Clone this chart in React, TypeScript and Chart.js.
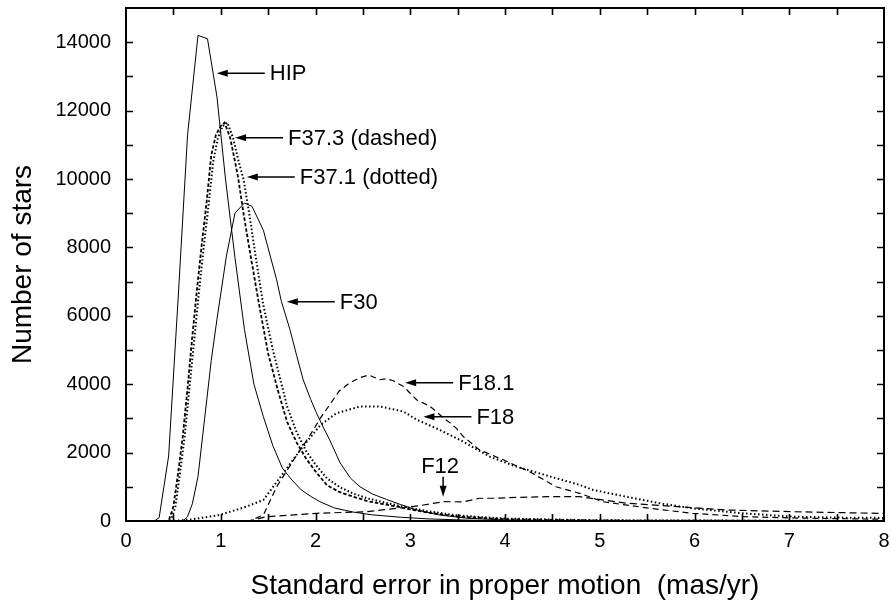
import { useEffect, useRef } from 'react';
import { Chart, registerables } from 'chart.js';

Chart.register(...registerables);

// ---- tick labels ----
const xTickValues = [0, 1, 2, 3, 4, 5, 6, 7, 8];
const yTickValues = [0, 2000, 4000, 6000, 8000, 10000, 12000, 14000];

// ---- series (x = standard error, y = number of stars) ----
const hipX = [0, 0.3, 0.35, 0.45, 0.55, 0.65, 0.76, 0.86, 0.96, 1.05, 1.15, 1.25, 1.35, 1.45, 1.55, 1.65, 1.75, 1.85, 1.95, 2.05, 2.2, 2.4, 2.6, 2.9, 3.2, 3.6, 4.0, 5.0, 8.0];
const hipY = [0, 0, 100, 1900, 6500, 11300, 14200, 14100, 12400, 10000, 7700, 5600, 4000, 3050, 2200, 1550, 1200, 910, 720, 560, 380, 260, 180, 110, 60, 25, 10, 0, 0];

const f373X = [0, 0.45, 0.5, 0.55, 0.6, 0.65, 0.7, 0.75, 0.8, 0.85, 0.9, 0.95, 1.0, 1.04, 1.1, 1.18, 1.24, 1.3, 1.4, 1.5, 1.6, 1.7, 1.8, 1.9, 2.0, 2.12, 2.25, 2.4, 2.55, 2.7, 2.86, 3.0, 3.2, 3.5, 4.0, 5.0, 8.0];
const f373Y = [0, 0, 420, 1400, 2500, 3900, 5400, 6800, 8100, 9300, 10700, 11300, 11550, 11650, 11200, 10100, 9000, 8000, 6400, 4900, 3850, 2900, 2300, 1830, 1450, 1050, 850, 710, 580, 500, 420, 340, 240, 130, 50, 15, 0];

const f371X = [0, 0.47, 0.52, 0.57, 0.62, 0.67, 0.72, 0.77, 0.82, 0.87, 0.92, 0.97, 1.02, 1.07, 1.13, 1.19, 1.24, 1.3, 1.37, 1.45, 1.55, 1.63, 1.7, 1.8, 1.9, 2.0, 2.12, 2.25, 2.4, 2.55, 2.7, 2.86, 3.0, 3.2, 3.5, 4.0, 5.0, 8.0];
const f371Y = [0, 0, 400, 1400, 2500, 3900, 5300, 6700, 8000, 9200, 10500, 11200, 11550, 11650, 11200, 10500, 10000, 9000, 7700, 6300, 5000, 4130, 3350, 2600, 2050, 1650, 1250, 1000, 800, 660, 560, 460, 380, 280, 160, 70, 20, 0];

const f30X = [0, 0.6, 0.65, 0.7, 0.76, 0.83, 0.9, 0.96, 1.06, 1.15, 1.25, 1.33, 1.45, 1.59, 1.64, 1.73, 1.8, 1.87, 1.95, 2.01, 2.08, 2.15, 2.26, 2.37, 2.47, 2.6, 2.75, 2.9, 3.07, 3.3, 3.6, 4.0, 5.0, 8.0];
const f30Y = [0, 0, 130, 500, 1300, 3000, 4700, 5900, 7750, 9000, 9300, 9200, 8500, 7050, 6420, 5600, 4850, 4130, 3550, 3160, 2750, 2370, 1700, 1250, 1000, 790, 630, 480, 320, 180, 80, 30, 5, 0];

const f181X = [0, 1.3, 1.45, 1.59, 1.77, 1.94, 2.05, 2.15, 2.25, 2.36, 2.46, 2.56, 2.68, 2.75, 2.82, 2.93, 3.07, 3.21, 3.35, 3.42, 3.49, 3.56, 3.73, 3.98, 4.26, 4.54, 4.8, 5.03, 5.53, 5.98, 6.5, 7.0, 7.5, 8.0];
const f181Y = [0, 0, 175, 1000, 1790, 2500, 3000, 3400, 3800, 4040, 4180, 4270, 4130, 4160, 4100, 3930, 3540, 3350, 3015, 2870, 2700, 2470, 2080, 1790, 1440, 1000, 800, 565, 370, 225, 130, 90, 70, 50];

const f18X = [0, 0.5, 0.7, 0.99, 1.27, 1.45, 1.66, 1.84, 2.05, 2.22, 2.47, 2.68, 2.93, 3.07, 3.31, 3.56, 3.84, 4.12, 4.54, 4.79, 4.93, 5.28, 5.63, 5.98, 6.51, 7.04, 7.5, 8.0];
const f18Y = [0, 0, 50, 175, 420, 615, 1400, 2080, 2800, 3150, 3350, 3350, 3200, 2960, 2665, 2320, 1880, 1590, 1250, 1054, 908, 710, 520, 370, 225, 126, 100, 90];

const f12X = [0, 1.3, 1.48, 2.01, 2.54, 2.86, 3.1, 3.35, 3.56, 3.73, 3.9, 4.12, 4.44, 4.79, 5.28, 5.81, 6.34, 7.04, 7.92, 8.0];
const f12Y = [0, 0, 126, 225, 272, 370, 450, 565, 560, 665, 665, 690, 710, 710, 520, 420, 322, 272, 225, 220];

// ---- annotations (arrow tip in data coordinates) ----
const annLabels = ['HIP', 'F37.3 (dashed)', 'F37.1 (dotted)', 'F30', 'F18.1', 'F18', 'F12'];
const annTipX = [0.958, 1.151, 1.275, 1.697, 2.946, 3.139, 3.347];
const annTipY = [13090, 11208, 10059, 6412, 4044, 3050, 711];
const annDir = ['left', 'left', 'left', 'left', 'left', 'left', 'down'];

const FONT = "'Liberation Sans', Arial, Helvetica, sans-serif";

const pts = (xs: number[], ys: number[]) => xs.map((x, i) => ({ x, y: ys[i] }));

const framePlugin = {
  id: 'frameAndNotes',
  afterDraw(chart: any) {
    const { ctx, chartArea } = chart;
    const { left, right, top, bottom } = chartArea;
    const xs = chart.scales.x;
    const ys = chart.scales.y;
    ctx.save();
    ctx.setLineDash([]);
    ctx.strokeStyle = '#000';
    ctx.fillStyle = '#000';
    // inward ticks
    ctx.lineWidth = 1.6;
    ctx.beginPath();
    for (let v = 0.5; v < 8; v += 0.5) {
      const px = Math.round(xs.getPixelForValue(v)) + 0.5;
      ctx.moveTo(px, bottom); ctx.lineTo(px, bottom - 7);
      ctx.moveTo(px, top); ctx.lineTo(px, top + 7);
    }
    for (let v = 1000; v < 15000; v += 1000) {
      const py = Math.round(ys.getPixelForValue(v)) + 0.5;
      ctx.moveTo(left, py); ctx.lineTo(left + 7, py);
      ctx.moveTo(right, py); ctx.lineTo(right - 7, py);
    }
    ctx.stroke();
    // frame
    ctx.lineWidth = 2;
    ctx.strokeRect(left, top, right - left, bottom - top);

    // annotations
    ctx.font = `22px ${FONT}`;
    ctx.lineWidth = 1.5;
    annLabels.forEach((label, i) => {
      const tx = xs.getPixelForValue(annTipX[i]);
      const ty = ys.getPixelForValue(annTipY[i]);
      if (annDir[i] === 'left') {
        const len = 48;
        ctx.beginPath();
        ctx.moveTo(tx + 8, ty);
        ctx.lineTo(tx + len, ty);
        ctx.stroke();
        ctx.beginPath();
        ctx.moveTo(tx, ty);
        ctx.lineTo(tx + 11, ty - 3.5);
        ctx.lineTo(tx + 11, ty + 3.5);
        ctx.closePath();
        ctx.fill();
        ctx.textAlign = 'left';
        ctx.textBaseline = 'middle';
        ctx.fillText(label, tx + len + 5, ty + 1);
      } else {
        const len = 20;
        ctx.beginPath();
        ctx.moveTo(tx, ty - 8);
        ctx.lineTo(tx, ty - len);
        ctx.stroke();
        ctx.beginPath();
        ctx.moveTo(tx, ty);
        ctx.lineTo(tx - 3.5, ty - 11);
        ctx.lineTo(tx + 3.5, ty - 11);
        ctx.closePath();
        ctx.fill();
        ctx.textAlign = 'center';
        ctx.textBaseline = 'alphabetic';
        ctx.fillText(label, tx - 3, ty - len - 4);
      }
    });
    ctx.restore();
  },
};

export default function App() {
  const ref = useRef<HTMLCanvasElement | null>(null);

  useEffect(() => {
    if (!ref.current) return;
    const line = (data: any, width: number, dash: number[]) => ({
      data,
      borderColor: '#000',
      backgroundColor: '#000',
      borderWidth: width,
      borderDash: dash,
      pointRadius: 0,
      tension: 0,
      fill: false,
    });
    const chart = new Chart(ref.current, {
      type: 'line',
      data: {
        datasets: [
          { label: 'HIP', ...line(pts(hipX, hipY), 1, []) },
          { label: 'F37.3', ...line(pts(f373X, f373Y), 1.8, [3.5, 2]) },
          { label: 'F37.1', ...line(pts(f371X, f371Y), 2, [1.5, 2.2]) },
          { label: 'F30', ...line(pts(f30X, f30Y), 1, []) },
          { label: 'F18.1', ...line(pts(f181X, f181Y), 1.2, [6, 4]) },
          { label: 'F18', ...line(pts(f18X, f18Y), 2, [1.5, 2.5]) },
          { label: 'F12', ...line(pts(f12X, f12Y), 1.2, [7, 4]) },
        ],
      },
      options: {
        animation: false,
        responsive: false,
        devicePixelRatio: 1,
        layout: { padding: { left: 0, right: 7, top: 8, bottom: 0 } },
        plugins: { legend: { display: false }, tooltip: { enabled: false } },
        scales: {
          x: {
            type: 'linear',
            min: 0,
            max: 8,
            grid: { display: false, drawTicks: false },
            border: { display: false },
            afterBuildTicks: (s: any) => { s.ticks = xTickValues.map((v) => ({ value: v })); },
            afterFit: (s: any) => { s.height = 83; s.paddingLeft = 0; s.paddingRight = 0; },
            ticks: {
              padding: 8,
              color: '#000',
              maxRotation: 0,
              font: { family: FONT, size: 20 },
              callback: (v: any) => String(v),
            },
            title: {
              display: true,
              text: 'Standard error in proper motion  (mas/yr)',
              color: '#000',
              font: { family: FONT, size: 28 },
              padding: { top: 0, bottom: 1 },
            },
          },
          y: {
            type: 'linear',
            min: 0,
            max: 15000,
            grid: { display: false, drawTicks: false },
            border: { display: false },
            afterBuildTicks: (s: any) => { s.ticks = yTickValues.map((v) => ({ value: v })); },
            afterFit: (s: any) => { s.width = 126; s.paddingTop = 0; s.paddingBottom = 0; },
            ticks: {
              padding: 15,
              color: '#000',
              font: { family: FONT, size: 20 },
              callback: (v: any) => String(v),
            },
            title: {
              display: true,
              text: 'Number of stars',
              color: '#000',
              font: { family: FONT, size: 28 },
              padding: { top: 6, bottom: 0 },
            },
          },
        },
      },
      plugins: [framePlugin],
    });
    return () => chart.destroy();
  }, []);

  return (
    <div style={{ position: 'absolute', left: 0, top: 0, width: 891, height: 604, background: '#fff' }}>
      <canvas ref={ref} width={891} height={604} />
    </div>
  );
}
